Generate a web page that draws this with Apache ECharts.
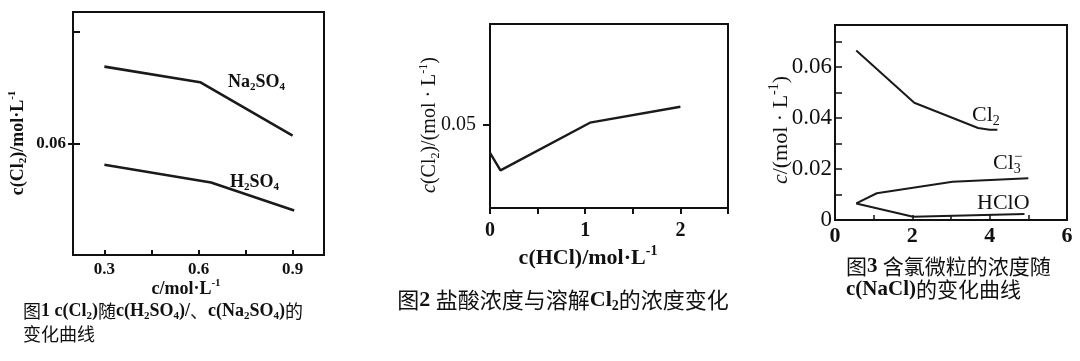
<!DOCTYPE html>
<html>
<head>
<meta charset="utf-8">
<script src="https://cdn.jsdelivr.net/npm/echarts@6/dist/echarts.min.js"></script>
<style>
html,body{margin:0;padding:0;background:#fff;}
#c{width:1080px;height:361px;}
</style>
</head>
<body>
<div id="c"></div>
<script>
// ---- Figure 1: c(Cl2) vs c(H2SO4) / c(Na2SO4) ----
const f1XTicks = [0.3, 0.45, 0.6, 0.75, 0.9];
const f1XLabels = [0.3, 0.6, 0.9];
const f1YTicks = [0.06, 0.07];
const f1YLabels = [0.06];
const na2so4X = [0.3, 0.605, 0.9];
const na2so4Y = [0.0669, 0.0655, 0.0607];
const h2so4X = [0.3, 0.64, 0.905];
const h2so4Y = [0.0581, 0.0565, 0.0540];

// ---- Figure 2: c(Cl2) vs c(HCl) ----
const f2XTicks = [0, 0.5, 1, 1.5, 2, 2.5];
const f2XLabels = [0, 1, 2];
const f2YLabels = [0.05];
const hclX = [0, 0.11, 1.05, 2.0];
const hclCl2Y = [0.0466, 0.0445, 0.0502, 0.0521];

// ---- Figure 3: chlorine species vs c(NaCl) ----
const f3XTicks = [1, 2, 3, 4, 5];
const f3XLabels = [0, 2, 4, 6];
const f3YTicks = [0.01, 0.02, 0.03, 0.04, 0.05, 0.06, 0.07];
const f3YLabels = [0, 0.02, 0.04, 0.06];
const cl2X = [0.55, 2.05, 3.7, 4.0, 4.2];
const cl2Y = [0.0665, 0.046, 0.0361, 0.0354, 0.0354];
const cl3X = [0.55, 1.08, 3.04, 5.0];
const cl3Y = [0.0065, 0.0105, 0.0150, 0.0164];
const hcloX = [0.55, 2.02, 4.9];
const hcloY = [0.0065, 0.0013, 0.0024];

const SERIF = '"Liberation Serif", "Times New Roman", serif';
const CJK = '"Noto Sans CJK SC", sans-serif';
const INK = '#111';
const LINE = '#1a1a1a';

function pts(xs, ys) { return xs.map((x, i) => [x, ys[i]]); }

function richSet(size, bold) {
  const w = bold ? 'bold' : 'normal';
  const s = Math.round(size * 0.62);
  return {
    b: { fontFamily: SERIF, fontSize: size, fontWeight: w, fill: INK },
    i: { fontFamily: SERIF, fontSize: size, fontWeight: w, fontStyle: 'italic', fill: INK },
    s: { fontFamily: SERIF, fontSize: s, fontWeight: w, fill: INK, padding: [Math.round(size * 0.55), 0, 0, 0] },
    p: { fontFamily: SERIF, fontSize: s, fontWeight: w, fill: INK, padding: [0, 0, Math.round(size * 0.6), 0] },
    z: { fontFamily: CJK, fontSize: size, fontWeight: 'normal', fill: INK }
  };
}

function txt(x, y, text, size, bold, opts) {
  opts = opts || {};
  return {
    type: 'text', x: x, y: y, rotation: opts.rot || 0, silent: true,
    style: {
      text: text, rich: richSet(size, bold),
      fontFamily: SERIF, fontSize: size, fontWeight: bold ? 'bold' : 'normal', fill: INK,
      align: opts.align || 'center', verticalAlign: 'middle',
      lineHeight: opts.lh
    }
  };
}

const gridBase = { show: true, borderColor: INK, borderWidth: 2, backgroundColor: 'transparent' };

const option = {
  animation: false,
  backgroundColor: '#fff',
  grid: [
    Object.assign({ left: 73, top: 12, width: 251, height: 243 }, gridBase),
    Object.assign({ left: 490, top: 24, width: 238, height: 184 }, gridBase),
    Object.assign({ left: 835, top: 25, width: 232, height: 195 }, gridBase)
  ],
  xAxis: [
    {
      gridIndex: 0, type: 'value', min: 0.2, max: 1.0,
      axisLine: { show: false }, splitLine: { show: false },
      axisTick: { inside: true, length: 5, lineStyle: { color: INK, width: 2 }, customValues: f1XTicks },
      axisLabel: { customValues: f1XLabels, formatter: v => v.toFixed(1), margin: 6,
        fontFamily: SERIF, fontWeight: 'bold', fontSize: 17, color: INK }
    },
    {
      gridIndex: 1, type: 'value', min: 0, max: 2.5,
      axisLine: { show: false }, splitLine: { show: false },
      axisTick: { inside: false, length: 6, lineStyle: { color: INK, width: 2 }, customValues: f2XTicks },
      axisLabel: { customValues: f2XLabels, formatter: v => String(v), margin: 13,
        fontFamily: SERIF, fontWeight: 'bold', fontSize: 20, color: INK }
    },
    {
      gridIndex: 2, type: 'value', min: 0, max: 6,
      axisLine: { show: false }, splitLine: { show: false },
      axisTick: { inside: true, length: 5, lineStyle: { color: INK, width: 1.5 }, customValues: f3XTicks },
      axisLabel: { customValues: f3XLabels, formatter: v => String(v), margin: 5,
        fontFamily: SERIF, fontWeight: 'bold', fontSize: 22, color: INK }
    }
  ],
  yAxis: [
    {
      gridIndex: 0, type: 'value', min: 0.05, max: 0.0718,
      axisLine: { show: false }, splitLine: { show: false },
      axisTick: { inside: true, length: 7, lineStyle: { color: INK, width: 2 }, customValues: f1YTicks },
      axisLabel: { customValues: f1YLabels, formatter: v => v.toFixed(2), margin: 7,
        fontFamily: SERIF, fontWeight: 'bold', fontSize: 17, color: INK }
    },
    {
      gridIndex: 0, type: 'value', min: 0.05, max: 0.0718, position: 'left',
      axisLine: { show: false }, splitLine: { show: false }, axisLabel: { show: false },
      axisTick: { inside: false, length: 5, lineStyle: { color: INK, width: 2 }, customValues: f1YLabels }
    },
    {
      gridIndex: 1, type: 'value', min: 0.04, max: 0.062,
      axisLine: { show: false }, splitLine: { show: false },
      axisTick: { inside: false, length: 7, lineStyle: { color: INK, width: 2 }, customValues: f2YLabels },
      axisLabel: { customValues: f2YLabels, formatter: v => v.toFixed(2), margin: 14,
        fontFamily: SERIF, fontSize: 20, color: INK }
    },
    {
      gridIndex: 2, type: 'value', min: 0, max: 0.0765,
      axisLine: { show: false }, splitLine: { show: false },
      axisTick: { inside: true, length: 7, lineStyle: { color: INK, width: 1.5 }, customValues: f3YTicks },
      axisLabel: { customValues: f3YLabels, formatter: v => (v === 0 ? '0' : v.toFixed(2)), margin: 3,
        fontFamily: SERIF, fontSize: 23, color: INK }
    }
  ],
  series: [
    { type: 'line', xAxisIndex: 0, yAxisIndex: 0, data: pts(na2so4X, na2so4Y), symbol: 'none',
      lineStyle: { color: LINE, width: 2.6 } },
    { type: 'line', xAxisIndex: 0, yAxisIndex: 0, data: pts(h2so4X, h2so4Y), symbol: 'none',
      lineStyle: { color: LINE, width: 2.6 } },
    { type: 'line', xAxisIndex: 1, yAxisIndex: 2, data: pts(hclX, hclCl2Y), symbol: 'none',
      lineStyle: { color: LINE, width: 2.4 } },
    { type: 'line', xAxisIndex: 2, yAxisIndex: 3, data: pts(cl2X, cl2Y), symbol: 'none',
      lineStyle: { color: LINE, width: 2 } },
    { type: 'line', xAxisIndex: 2, yAxisIndex: 3, data: pts(cl3X, cl3Y), symbol: 'none',
      lineStyle: { color: LINE, width: 2 } },
    { type: 'line', xAxisIndex: 2, yAxisIndex: 3, data: pts(hcloX, hcloY), symbol: 'none',
      lineStyle: { color: LINE, width: 2 } }
  ],
  graphic: [
    // Figure 1 texts
    txt(18, 143, '{b|c(Cl}{s|2}{b|)/mol·L}{p|-1}', 18, true, { rot: Math.PI / 2 }),
    txt(186, 289, '{b|c/mol·L}{p|-1}', 18, true),
    txt(228, 82, '{b|Na}{s|2}{b|SO}{s|4}', 18, true, { align: 'left' }),
    txt(230, 182, '{b|H}{s|2}{b|SO}{s|4}', 18, true, { align: 'left' }),
    txt(23, 323, '{z|图}{b|1 c(Cl}{s|2}{b|)}{z|随}{b|c(H}{s|2}{b|SO}{s|4}{b|)/}{z|、}{b|c(Na}{s|2}{b|SO}{s|4}{b|)}{z|的}\n{z|变化曲线}', 18, true, { align: 'left', lh: 23 }),
    // Figure 2 texts
    txt(430, 125, '{i|c}{b|(Cl}{s|2}{b|)/(mol · L}{p|-1}{b|)}', 20, false, { rot: Math.PI / 2 }),
    txt(588, 258, '{b|c(HCl)/mol·L}{p|-1}', 22, true),
    txt(563, 300, '{z|图}{b|2 }{z|盐酸浓度与溶解}{b|Cl}{s|2}{z|的浓度变化}', 22, true),
    // Figure 3 texts
    txt(781, 130, '{i|c}{b|/(mol · L}{p|-1}{b|)}', 22, false, { rot: Math.PI / 2 }),
    txt(972, 115, '{b|Cl}{s|2}', 22, false, { align: 'left' }),
    txt(993, 163, '{b|Cl}{s|3}', 22, false, { align: 'left' }),
    txt(1014, 157, '{b|−}', 15, false, { align: 'left' }),
    txt(977, 203, '{b|HClO}', 22, false, { align: 'left' }),
    txt(846, 278, '{z|图}{b|3 }{z|含氯微粒的浓度随}\n{b|c(NaCl)}{z|的变化曲线}', 21, true, { align: 'left', lh: 23 })
  ]
};

const chart = echarts.init(document.getElementById('c'), null, { renderer: 'canvas' });
chart.setOption(option);
</script>
</body>
</html>
